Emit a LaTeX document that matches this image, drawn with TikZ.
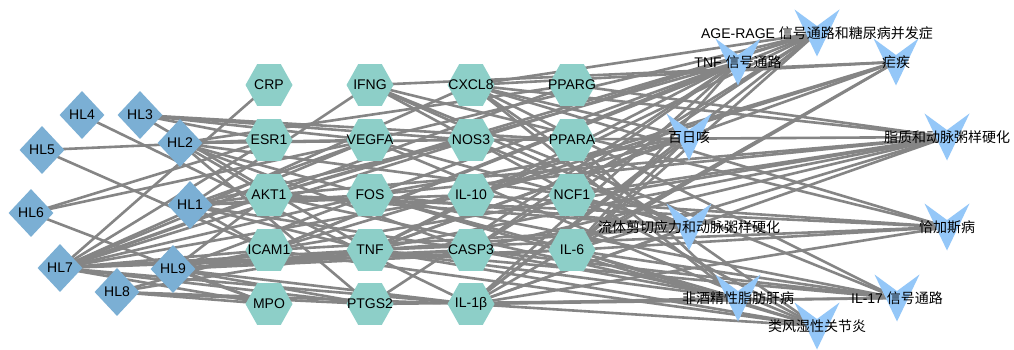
\documentclass[tikz,border=0pt]{standalone}
\usepackage{fontspec}
\setmainfont{Liberation Sans}
\newfontfamily\cjk{Noto Sans CJK SC}
\usetikzlibrary{shapes.geometric}
\pgfdeclarelayer{bg}
\pgfsetlayers{bg,main}
\definecolor{herbc}{HTML}{7BAFD4}
\definecolor{tgtc}{HTML}{8DCFC8}
\definecolor{pathc}{HTML}{94C7F8}
\definecolor{edgec}{HTML}{858585}
\newcommand\pathnode[4]{%
  \fill[pathc, shift={(#2,#3)}] (-22.5,-23.5) -- (0,-7) -- (22.5,-23.5) -- (0,23.5) -- cycle;
  \node[plabel] (#1) at (#2,#3) {#4};}
\begin{document}
\begin{tikzpicture}[x=1pt,y=-1pt,
  herb/.style={diamond, fill=herbc, minimum width=45pt, minimum height=48pt, inner sep=0pt, font=\fontsize{14pt}{16pt}\selectfont},
  tgt/.style={regular polygon, regular polygon sides=6, fill=tgtc, minimum size=47pt, inner sep=0pt, yscale=1.03, label={[font=\fontsize{14pt}{16pt}\selectfont]center:#1}},
  plabel/.style={inner sep=0pt, font=\fontsize{14pt}{16pt}\selectfont},
  link/.style={draw=edgec, line width=2.6pt}]
\useasboundingbox (0,0) rectangle (1014,350);
\begin{pgfonlayer}{bg}
\fill[white] (0,0) rectangle (1014,350);
\end{pgfonlayer}
% herbs
\node[herb] (h1) at (190,205) {HL1};
\node[herb] (h2) at (180,143) {HL2};
\node[herb] (h3) at (140,115) {HL3};
\node[herb] (h4) at (82,115) {HL4};
\node[herb] (h5) at (42,150) {HL5};
\node[herb] (h6) at (31,213) {HL6};
\node[herb] (h7) at (60,268) {HL7};
\node[herb] (h8) at (117,292) {HL8};
\node[herb] (h9) at (173,269) {HL9};
% targets
\node[tgt=CRP] (crp) at (269,85) {};
\node[tgt=ESR1] (esr) at (269,140) {};
\node[tgt=AKT1] (akt) at (269,195) {};
\node[tgt=ICAM1] (icam) at (269,250) {};
\node[tgt=MPO] (mpo) at (269,304) {};
\node[tgt=IFNG] (ifng) at (370,85) {};
\node[tgt=VEGFA] (vegfa) at (370,140) {};
\node[tgt=FOS] (fos) at (370,195) {};
\node[tgt=TNF] (tnf) at (370,250) {};
\node[tgt=PTGS2] (ptgs) at (370,304) {};
\node[tgt=CXCL8] (cxcl) at (471,85) {};
\node[tgt=NOS3] (nos) at (471,140) {};
\node[tgt=IL-10] (il10) at (471,195) {};
\node[tgt=CASP3] (casp) at (471,250) {};
\node[tgt=IL-1β] (il1b) at (471,304) {};
\node[tgt=PPARG] (pparg) at (572,85) {};
\node[tgt=PPARA] (ppara) at (572,140) {};
\node[tgt=NCF1] (ncf) at (572,195) {};
\node[tgt=IL-6] (il6) at (572,250) {};
% pathways
\pathnode{age}{817}{33}{AGE-RAGE {\cjk 信号通路和糖尿病并发症}}
\pathnode{tnfp}{738}{62}{TNF {\cjk 信号通路}}
\pathnode{mal}{896}{62}{\cjk 疟疾}
\pathnode{pert}{689}{137}{\cjk 百日咳}
\pathnode{lip}{947}{137}{\cjk 脂质和动脉粥样硬化}
\pathnode{fluid}{689}{227}{\cjk 流体剪切应力和动脉粥样硬化}
\pathnode{chagas}{947}{227}{\cjk 恰加斯病}
\pathnode{nafld}{738}{298}{\cjk 非酒精性脂肪肝病}
\pathnode{il17}{897}{298}{IL-17 {\cjk 信号通路}}
\pathnode{ra}{817}{326}{\cjk 类风湿性关节炎}
\begin{pgfonlayer}{bg}
\foreach \a/\b in {h1/ifng,h1/akt,h1/icam,h1/fos,h1/tnf,h1/il10,h1/nos,h1/vegfa,h1/casp,
  h2/esr,h2/vegfa,h2/nos,h2/akt,h2/ptgs,h2/casp,h2/il6,h2/ncf,h2/pparg,
  h3/esr,h3/nos,h3/ppara,h3/tnf,h3/vegfa,
  h4/il1b,
  h5/esr,h5/icam,
  h6/esr,h6/vegfa,h6/mpo,
  h7/crp,h7/esr,h7/akt,h7/icam,h7/mpo,h7/vegfa,h7/fos,h7/tnf,h7/ptgs,h7/il10,h7/casp,h7/il1b,h7/il6,h7/cxcl,h7/pparg,h7/nos,
  h8/mpo,h8/ptgs,h8/icam,h8/tnf,h8/il1b,
  h9/icam,h9/tnf,h9/ptgs,h9/mpo,h9/casp,h9/il6,h9/akt,h9/fos,h9/il1b,
  akt/age,vegfa/age,il6/age,tnf/age,il1b/age,cxcl/age,icam/age,casp/age,nos/age,ncf/age,
  akt/tnfp,il6/tnfp,tnf/tnfp,il1b/tnfp,casp/tnfp,icam/tnfp,fos/tnfp,ptgs/tnfp,
  tnf/mal,il6/mal,il1b/mal,cxcl/mal,ifng/mal,il10/mal,icam/mal,
  il6/pert,tnf/pert,il1b/pert,cxcl/pert,il10/pert,fos/pert,
  akt/lip,il6/lip,tnf/lip,il1b/lip,cxcl/lip,icam/lip,casp/lip,pparg/lip,ncf/lip,fos/lip,nos/lip,
  akt/fluid,vegfa/fluid,il1b/fluid,tnf/fluid,icam/fluid,nos/fluid,fos/fluid,ncf/fluid,ifng/fluid,
  tnf/chagas,il6/chagas,il1b/chagas,cxcl/chagas,il10/chagas,ifng/chagas,akt/chagas,
  akt/nafld,il6/nafld,tnf/nafld,il1b/nafld,cxcl/nafld,casp/nafld,ppara/nafld,
  il6/il17,tnf/il17,il1b/il17,cxcl/il17,casp/il17,fos/il17,ptgs/il17,ifng/il17,
  il6/ra,tnf/ra,il1b/ra,cxcl/ra,vegfa/ra,icam/ra,ifng/ra,fos/ra}
  \draw[link] (\a.center) -- (\b.center);
\end{pgfonlayer}
\end{tikzpicture}
\end{document}
